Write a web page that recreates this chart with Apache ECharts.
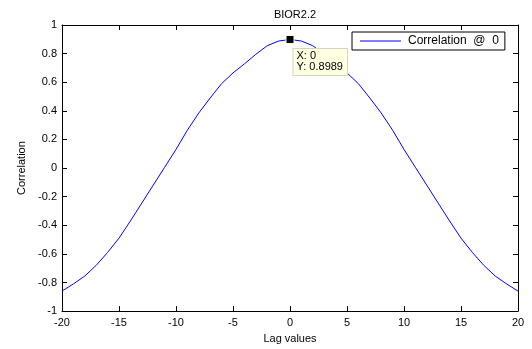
<!DOCTYPE html>
<html>
<head>
<meta charset="utf-8">
<script src="https://cdn.jsdelivr.net/npm/echarts@6/dist/echarts.min.js"></script>
<style>
  html, body { margin: 0; padding: 0; background: #fff; }
  #chart { width: 532px; height: 349px; }
</style>
</head>
<body>
<div id="chart"></div>
<script>
// lag values and correlation
const lags = [-20, -19, -18, -17, -16, -15, -14, -13, -12, -11, -10, -9, -8, -7, -6, -5, -4, -3, -2, -1,
  0, 1, 2, 3, 4, 5, 6, 7, 8, 9, 10, 11, 12, 13, 14, 15, 16, 17, 18, 19, 20];
const corr = [-0.86, -0.81, -0.755, -0.68, -0.59, -0.49, -0.37, -0.245, -0.12, 0.005,
  0.13, 0.265, 0.385, 0.49, 0.59, 0.665, 0.728, 0.795, 0.855, 0.888,
  0.8989,
  0.888, 0.855, 0.795, 0.728, 0.665, 0.59, 0.49, 0.385, 0.265, 0.13,
  0.005, -0.12, -0.245, -0.37, -0.49, -0.59, -0.68, -0.755, -0.81, -0.86];
const seriesName = "Correlation  @  0";
const tipPoint = [0, 0.8989];

const font = "Liberation Sans";
const chart = echarts.init(document.getElementById("chart"));

const axisCommon = {
  axisLine: { show: true, onZero: false, lineStyle: { color: "#000", width: 1 } },
  axisTick: { show: true, inside: true, length: 5, lineStyle: { color: "#000" } },
  splitLine: { show: false },
};

chart.setOption({
  animation: false,
  textStyle: { fontFamily: font, color: "#000" },
  title: {
    text: "BIOR2.2",
    left: 290, top: 4, textAlign: "center",
    textStyle: { fontSize: 11, fontWeight: "normal", color: "#000", fontFamily: font },
  },
  legend: {
    data: [{ name: seriesName, icon: "rect" }],
    left: 352, top: 32,
    borderColor: "#000", borderWidth: 1, borderRadius: 0,
    padding: [3, 6, 3, 8],
    itemWidth: 41, itemHeight: 1, itemGap: 8,
    backgroundColor: "#fff",
    textStyle: { fontSize: 12, color: "#000", fontFamily: font, padding: [0, 0, 0, 2] },
  },
  grid: { left: 62, right: 14, top: 25, bottom: 37 },
  xAxis: [
    Object.assign({}, axisCommon, {
      type: "value", min: -20, max: 20, interval: 5, position: "bottom",
      name: "Lag values", nameLocation: "middle", nameGap: 20,
      nameTextStyle: { fontSize: 11, color: "#000", fontFamily: font },
      axisLabel: { fontSize: 11, color: "#000", margin: 6, fontFamily: font },
    }),
    Object.assign({}, axisCommon, {
      type: "value", min: -20, max: 20, interval: 5, position: "top",
      axisLabel: { show: false },
    }),
  ],
  yAxis: [
    Object.assign({}, axisCommon, {
      type: "value", min: -1, max: 1, interval: 0.2, position: "left",
      name: "Correlation", nameLocation: "middle", nameGap: 35,
      nameTextStyle: { fontSize: 11, color: "#000", fontFamily: font },
      axisLabel: { fontSize: 11, color: "#000", margin: 5, fontFamily: font },
    }),
    Object.assign({}, axisCommon, {
      type: "value", min: -1, max: 1, interval: 0.2, position: "right",
      axisLabel: { show: false },
    }),
  ],
  series: [
    {
      name: seriesName,
      type: "line",
      data: lags.map((l, i) => [l, corr[i]]),
      showSymbol: false,
      symbol: "none",
      lineStyle: { color: "#0000ff", width: 1 },
      itemStyle: { color: "#0000ff" },
      markPoint: {
        symbol: "rect",
        symbolSize: 8,
        itemStyle: { color: "#000", borderColor: "#ffffe1", borderWidth: 1 },
        data: [{
          coord: tipPoint,
          label: {
            show: true,
            position: [8, 14],
            formatter: "X: " + tipPoint[0] + "\nY: " + tipPoint[1],
            backgroundColor: "#ffffe1",
            borderColor: "#d4d4c0",
            borderWidth: 1,
            padding: [2, 4, 2, 3],
            fontSize: 11,
            lineHeight: 11,
            color: "#000",
            fontFamily: font,
            align: "left",
            verticalAlign: "top",
          },
        }],
      },
    },
  ],
});
</script>
</body>
</html>
